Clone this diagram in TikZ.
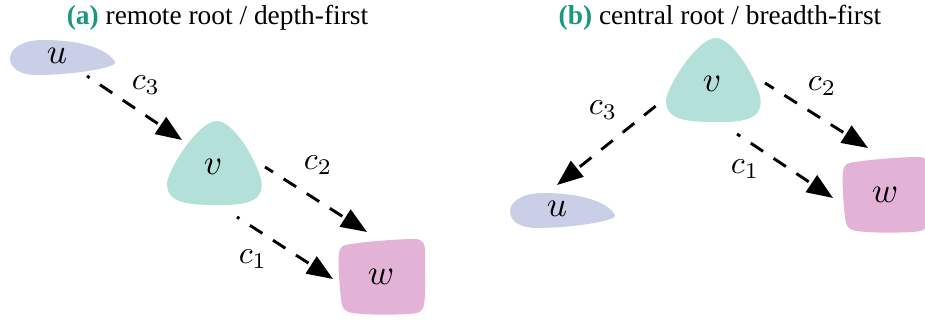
\documentclass[tikz,border=0pt]{standalone}
\usepackage{fontspec}
\newfontfamily\titlefont{Liberation Serif}
\usetikzlibrary{arrows.meta}

\definecolor{ublue}{RGB}{200,207,231}
\definecolor{vmint}{RGB}{179,224,216}
\definecolor{wpink}{RGB}{227,179,215}
\definecolor{captionteal}{RGB}{26,150,133}

\tikzset{
  blobtext/.style={inner sep=0pt, font=\fontsize{10}{12}\selectfont, scale=3.55, transform shape},
  edgelabel/.style={inner sep=0pt, font=\fontsize{10}{12}\selectfont, scale=3.2, transform shape},
  title/.style={anchor=base, inner sep=0pt, font=\titlefont\fontsize{27.4}{32}\selectfont},
  % dashed connector, drawn from the arrow head back to its source
  conn/.style={line width=2.9pt, dash pattern=on 14.8pt off 12.6pt,
    dash phase=23.4pt, arrows={Triangle[length=26pt,width=20pt]-}},
  % organic node outlines, relative to the letter's centre
  ushape/.pic={\fill[ublue] (58,6) .. controls (50,-8) and (22,-16) .. (-14,-16)
      .. controls (-35,-16) and (-47,-7) .. (-47,2)
      .. controls (-47,13) and (-36,19) .. (-20,19)
      .. controls (5,19) and (42,15) .. (56,9)
      .. controls (58,8) and (58,7) .. (58,6) -- cycle;},
  vshape/.pic={\fill[vmint] (4,-46) .. controls (18,-46) and (40,-15) .. (48,12)
      .. controls (52,32) and (38,38) .. (10,38)
      .. controls (-20,38) and (-45,38) .. (-46,18)
      .. controls (-47,5) and (-15,-46) .. (4,-46) -- cycle;},
  wshape/.pic={\fill[wpink] (-30,-33) .. controls (-10,-36) and (20,-38) .. (33,-38)
      .. controls (43,-38) and (44,-33) .. (44,-24)
      .. controls (44,0) and (45,15) .. (43,27)
      .. controls (42,35) and (38,36) .. (28,37)
      .. controls (10,38) and (-15,38) .. (-28,36)
      .. controls (-36,35) and (-39,32) .. (-40,22)
      .. controls (-42,5) and (-43,-15) .. (-42,-23)
      .. controls (-41,-31) and (-38,-32) .. (-30,-33) -- cycle;},
}

\begin{document}
\begin{tikzpicture}[x=1pt,y=-1pt]
  \useasboundingbox (0,0) rectangle (925,320);
  \clip (0,0) rectangle (925,320);

  % titles
  \node[title] (ta) at (217.5,25) {\textcolor{captionteal}{\bfseries (a)} remote root / depth-first};
  \node[title] (tb) at (720,25) {\textcolor{captionteal}{\bfseries (b)} central root / breadth-first};

  % (a) remote root
  \pic at (57,56) {ushape};
  \pic at (213,167) {vshape};
  \pic at (381,277) {wshape};
  \node[blobtext] (uL) at (57,56) {$u$};
  \node[blobtext] (vL) at (213,167) {$v$};
  \node[blobtext] (wL) at (381,277) {$w$};

  \draw[conn] ([shift={(-31,-27)}]vL.center) -- ([shift={(30,20)}]uL.center);
  \draw[conn] ([shift={(-14,-45)}]wL.center) -- ([shift={(52,0)}]vL.center);
  \draw[conn] ([shift={(-48,2)}]wL.center) -- ([shift={(24,50)}]vL.center);

  \node[edgelabel] (c3L) at (146,85) {$c_3$};
  \node[edgelabel] (c2L) at (318,165) {$c_2$};
  \node[edgelabel] (c1L) at (253,259) {$c_1$};

  % (b) central root
  \pic at (712,84) {vshape};
  \pic at (557,209) {ushape};
  \pic at (885,195) {wshape};
  \node[blobtext] (vR) at (712,84) {$v$};
  \node[blobtext] (uR) at (557,209) {$u$};
  \node[blobtext] (wR) at (885,195) {$w$};

  \draw[conn] ([shift={(0,-24)}]uR.center) -- ([shift={(-55,21)}]vR.center);
  \draw[conn] ([shift={(-17,-47)}]wR.center) -- ([shift={(53,-1)}]vR.center);
  \draw[conn] ([shift={(-52,3)}]wR.center) -- ([shift={(25,50)}]vR.center);

  \node[edgelabel] (c3R) at (603,110) {$c_3$};
  \node[edgelabel] (c2R) at (822,86) {$c_2$};
  \node[edgelabel] (c1R) at (745,169) {$c_1$};
\end{tikzpicture}
\end{document}
